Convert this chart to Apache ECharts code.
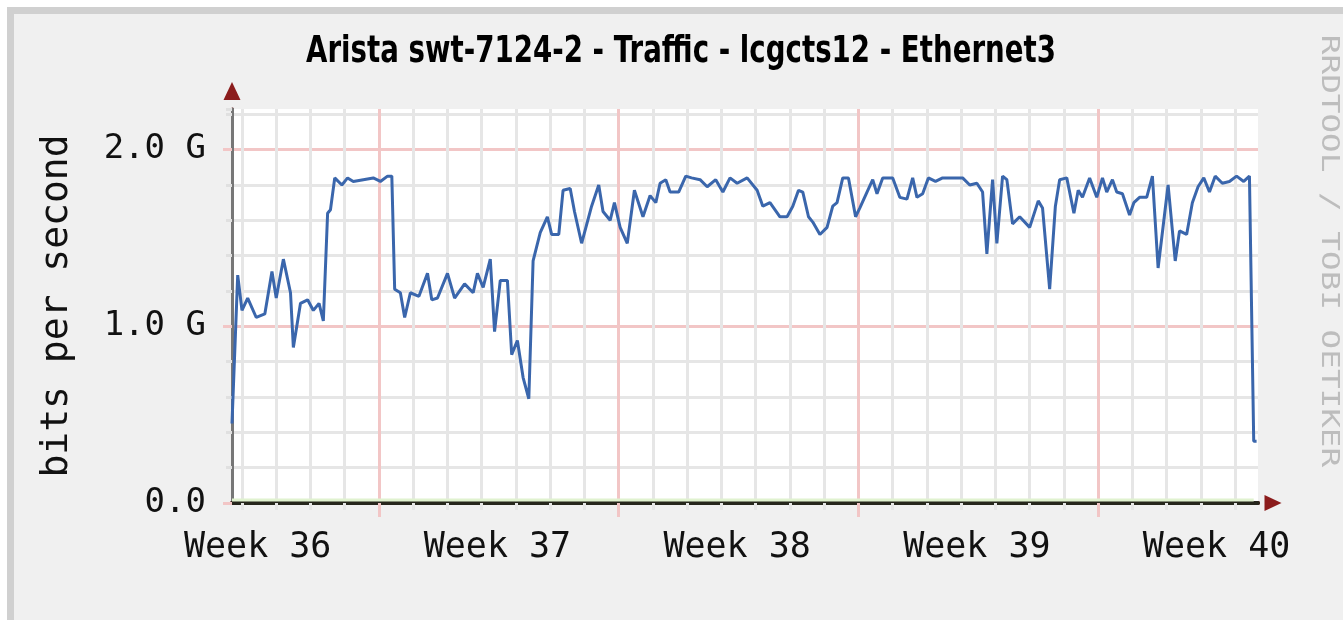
<!DOCTYPE html>
<html>
<head>
<meta charset="utf-8">
<title>Arista swt-7124-2 - Traffic</title>
<script src="https://cdn.jsdelivr.net/npm/echarts@6/dist/echarts.min.js"></script>
<style>
html, body { margin: 0; padding: 0; background: #ffffff; }
#frame { position: absolute; left: 7px; top: 7px; width: 1336px; height: 613px; box-sizing: border-box;
         border-left: 7px solid #d0d0d0; border-top: 7px solid #d0d0d0; background: #f0f0f0; }
#main { position: absolute; left: 0; top: 0; width: 1343px; height: 620px; }
</style>
</head>
<body>
<div id="frame"></div>
<div id="main"></div>
<script>
var chartTitle = 'Arista swt-7124-2 - Traffic - lcgcts12 - Ethernet3';
var unitLabel = 'bits per second';
var watermark = 'RRDTOOL / TOBI OETIKER';

// time in hours from the left edge of the graph, value in Gbit/s
var hours = [0, 4, 7, 11, 17, 23, 28, 31, 36, 41, 43, 48, 53, 57, 61, 64, 67, 69, 72, 77,
	81, 85, 92, 99, 104, 109, 112, 114, 118, 121, 125, 131, 137, 140, 144, 151, 156, 163, 169, 172,
	176, 181, 184, 188, 193, 196, 200, 204, 208, 211, 216, 221, 224, 229, 232, 237, 240, 245, 249, 252,
	257, 260, 265, 268, 272, 277, 282, 288, 293, 297, 300, 304, 307, 313, 318, 322, 328, 333, 339, 344,
	349, 354, 361, 368, 372, 377, 384, 389, 393, 397, 400, 404, 407, 412, 417, 421, 424, 428, 432, 437,
	440, 445, 449, 452, 456, 463, 468, 473, 477, 480, 484, 488, 493, 498, 505, 512, 517, 522, 526, 529,
	533, 536, 540, 543, 547, 552, 559, 565, 568, 573, 577, 580, 585, 590, 593, 596, 601, 606, 610, 613,
	617, 620, 624, 629, 632, 636, 641, 645, 649, 656, 661, 664, 669, 673, 677, 681, 685, 689, 694, 699,
	704, 709, 713, 714, 716, 718];
var bitsIn = [0.45, 1.29, 1.09, 1.16, 1.05, 1.07, 1.31, 1.16, 1.38, 1.19, 0.88, 1.13, 1.15, 1.09, 1.13, 1.03, 1.64, 1.66, 1.84, 1.80,
	1.84, 1.82, 1.83, 1.84, 1.82, 1.85, 1.85, 1.21, 1.19, 1.05, 1.19, 1.17, 1.30, 1.15, 1.16, 1.30, 1.16, 1.24, 1.19, 1.30,
	1.22, 1.38, 0.97, 1.26, 1.26, 0.84, 0.92, 0.71, 0.59, 1.37, 1.53, 1.62, 1.52, 1.52, 1.77, 1.78, 1.65, 1.47, 1.59, 1.68,
	1.80, 1.65, 1.60, 1.70, 1.56, 1.47, 1.77, 1.62, 1.74, 1.70, 1.81, 1.83, 1.76, 1.76, 1.85, 1.84, 1.83, 1.79, 1.83, 1.76,
	1.84, 1.81, 1.84, 1.77, 1.68, 1.70, 1.62, 1.62, 1.68, 1.77, 1.76, 1.62, 1.59, 1.52, 1.56, 1.68, 1.70, 1.84, 1.84, 1.62,
	1.67, 1.76, 1.83, 1.75, 1.84, 1.84, 1.73, 1.72, 1.84, 1.73, 1.75, 1.84, 1.82, 1.84, 1.84, 1.84, 1.80, 1.81, 1.76, 1.41,
	1.83, 1.47, 1.85, 1.83, 1.58, 1.62, 1.56, 1.71, 1.67, 1.21, 1.68, 1.83, 1.84, 1.64, 1.77, 1.73, 1.84, 1.73, 1.84, 1.76,
	1.83, 1.76, 1.75, 1.63, 1.70, 1.73, 1.73, 1.85, 1.33, 1.80, 1.37, 1.54, 1.52, 1.70, 1.79, 1.84, 1.76, 1.85, 1.81, 1.82,
	1.85, 1.82, 1.85, 1.85, 0.35, 0.35];
var outHours = [0, 716];
var bitsOut = [0.017, 0.017];

var dayLines = [7, 31, 55, 79, 103, 127, 151, 175, 199, 223, 247, 271, 295, 319, 343, 367, 391, 415, 439, 463,
	487, 511, 535, 559, 583, 607, 631, 655, 679, 703];
var weekLines = [103, 271, 439, 607];
var weekLabelHours = [18, 186, 354, 522, 690];
var weekNames = ['Week 36', 'Week 37', 'Week 38', 'Week 39', 'Week 40'];
var yLabelValues = [0, 1, 2];
var yLabelTexts = ['0.0', '1.0 G', '2.0 G'];

var monoFont = '"DejaVu Sans Mono", "Liberation Mono", monospace';
var xMax = 719, yMax = 2.23;

var myChart = echarts.init(document.getElementById('main'));

var pairs = function(xs, ys) {
	return xs.map(function(x, i) { return [x, ys[i]]; });
};

var option = {
	animation: false,
	backgroundColor: 'transparent',
	grid: {
		left: 232, top: 109, width: 1026, height: 394,
		show: true, backgroundColor: '#ffffff', borderWidth: 0
	},
	graphic: [{
		type: 'text', x: 681, y: 52, scaleX: 0.728, silent: true,
		style: {
			text: chartTitle, font: 'bold 38px "DejaVu Sans"', fill: '#000000',
			align: 'center', verticalAlign: 'middle', textAlign: 'center', textVerticalAlign: 'middle'
		}
	}, {
		type: 'text', x: 1328, y: 251, rotation: -Math.PI / 2, scaleX: 1.36, silent: true,
		style: {
			text: watermark, font: '24px ' + monoFont, fill: '#bdbdbd',
			align: 'center', verticalAlign: 'middle', textAlign: 'center', textVerticalAlign: 'middle'
		}
	}],
	xAxis: [{
		// red arrow under the axis line
		type: 'value', min: 0, max: xMax, position: 'bottom',
		axisLine: { show: true, symbol: ['none', 'triangle'], symbolSize: [16, 17], symbolOffset: [0, 15],
			lineStyle: { color: '#8b1c1c', width: 4 } },
		axisTick: { show: false }, axisLabel: { show: false }, splitLine: { show: false }
	}, {
		// daily grid
		type: 'value', min: 0, max: xMax, position: 'bottom',
		axisLine: { show: false },
		axisTick: { show: true, customValues: dayLines, length: 7, lineStyle: { color: '#e6e6e6', width: 3 } },
		axisLabel: { show: false },
		splitLine: { show: true, lineStyle: { color: '#e6e6e6', width: 3 } }
	}, {
		// weekly grid
		type: 'value', min: 0, max: xMax, position: 'bottom',
		axisLine: { show: false },
		axisTick: { show: true, customValues: weekLines, length: 14, lineStyle: { color: '#f2c6c6', width: 3 } },
		axisLabel: { show: false },
		splitLine: { show: true, lineStyle: { color: '#f2c6c6', width: 3 } }
	}, {
		// main time axis
		type: 'value', min: 0, max: xMax, position: 'bottom',
		axisLine: { show: true, lineStyle: { color: '#26261c', width: 4 } },
		axisTick: { show: false },
		axisLabel: {
			show: true, customValues: weekLabelHours, margin: 27,
			fontFamily: monoFont, fontSize: 35, color: '#111111',
			formatter: function(v) {
				var i = weekLabelHours.indexOf(v);
				return i >= 0 ? weekNames[i] : '';
			}
		},
		splitLine: { show: false }
	}],
	yAxis: [{
		// red arrow under the axis line
		type: 'value', min: 0, max: yMax, position: 'left',
		axisLine: { show: true, symbol: ['none', 'triangle'], symbolSize: [17, 18], symbolOffset: [0, 18],
			lineStyle: { color: '#8b1c1c', width: 3 } },
		axisTick: { show: false }, axisLabel: { show: false }, splitLine: { show: false }
	}, {
		// minor grid
		type: 'value', min: 0, max: yMax, interval: 0.2, position: 'left',
		axisLine: { show: true, lineStyle: { color: '#777777', width: 3 } },
		axisTick: { show: true, length: 6, lineStyle: { color: '#e0e0e0', width: 3 } },
		axisLabel: { show: false },
		splitLine: { show: true, showMaxLine: false, showMinLine: false, lineStyle: { color: '#e6e6e6', width: 3 } },
		name: unitLabel, nameLocation: 'middle', nameRotate: 90, nameGap: 156,
		nameTextStyle: { fontFamily: monoFont, fontSize: 38, color: '#111111' }
	}, {
		// major grid and labels
		type: 'value', min: 0, max: yMax, interval: 1, position: 'left',
		axisLine: { show: false },
		axisTick: { show: true, length: 9, lineStyle: { color: '#f2c6c6', width: 3 } },
		axisLabel: {
			show: true, margin: 26, fontFamily: monoFont, fontSize: 34, color: '#111111',
			showMaxLabel: false,
			formatter: function(v) {
				var i = yLabelValues.indexOf(v);
				return i >= 0 ? yLabelTexts[i] : '';
			}
		},
		splitLine: { show: true, showMaxLine: false, showMinLine: false, lineStyle: { color: '#f2c6c6', width: 3 } }
	}],
	series: [{
		name: 'out', type: 'line', xAxisIndex: 3, yAxisIndex: 2,
		data: pairs(outHours, bitsOut), showSymbol: false, silent: true,
		lineStyle: { color: '#e0f2cf', width: 3 }
	}, {
		name: 'in', type: 'line', xAxisIndex: 3, yAxisIndex: 2,
		data: pairs(hours, bitsIn), showSymbol: false, silent: true,
		lineStyle: { color: '#3a66ac', width: 3 }
	}]
};
myChart.setOption(option);
</script>
</body>
</html>
